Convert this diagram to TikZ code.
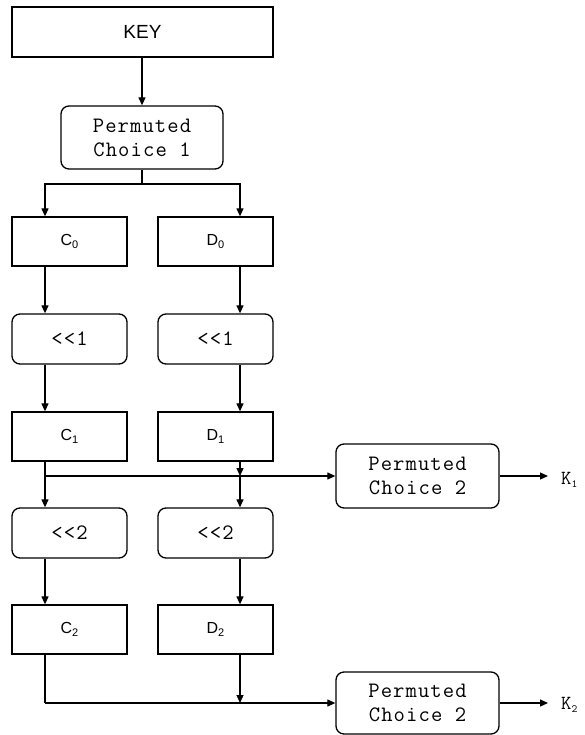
\documentclass[tikz,border=0pt]{standalone}
\usepackage{fontspec}
\setmainfont{Liberation Sans}
\newfontfamily\monofont{Latin Modern Mono}[LetterSpace=5]
\usetikzlibrary{arrows.meta,calc}
\tikzset{
  sqbox/.style={draw, line width=1.3pt, inner sep=0pt, font=\fontsize{16}{18}\selectfont},
  rbox/.style={draw, line width=1.3pt, rounded corners=8pt, inner sep=0pt, align=center,
    font=\monofont\fontsize{22}{24}\selectfont},
  arr/.style={line width=1.2pt, -{Triangle[length=8pt,width=7pt]}},
  ln/.style={line width=1.2pt},
  klabel/.style={inner sep=0pt, anchor=west, font=\monofont\fontsize{20}{22}\selectfont}
}
\newcommand{\subsc}[1]{\raisebox{-3pt}{\fontsize{11}{11}\selectfont #1}}
\begin{document}
\begin{tikzpicture}[x=1pt,y=-1pt]
\useasboundingbox (0,0) rectangle (585,735);
\coordinate (cx) at (45,0);
\coordinate (dx) at (240,0);
% nodes
\node[sqbox, minimum width=261pt, minimum height=50pt, font=\fontsize{19}{22}\selectfont] (key) at (142.5,32) {KEY};
\node[rbox, minimum width=162pt, minimum height=63pt] (pc1) at (142,137.5) {Permuted\\Choice 1};
\node[sqbox, minimum width=115pt, minimum height=49pt] (c0) at (69.5,241.5) {C\subsc{0}};
\node[sqbox, minimum width=115pt, minimum height=49pt] (d0) at (215.5,241.5) {D\subsc{0}};
\node[rbox, minimum width=115pt, minimum height=50pt] (s1a) at (69.5,339) {<<1};
\node[rbox, minimum width=115pt, minimum height=50pt] (s1b) at (215.5,339) {<<1};
\node[sqbox, minimum width=115pt, minimum height=49pt] (c1) at (69.5,436.5) {C\subsc{1}};
\node[sqbox, minimum width=115pt, minimum height=49pt] (d1) at (215.5,436.5) {D\subsc{1}};
\node[rbox, minimum width=115pt, minimum height=50pt] (s2a) at (69.5,533) {<<2};
\node[rbox, minimum width=115pt, minimum height=50pt] (s2b) at (215.5,533) {<<2};
\node[sqbox, minimum width=115pt, minimum height=49pt] (c2) at (69.5,629.5) {C\subsc{2}};
\node[sqbox, minimum width=115pt, minimum height=49pt] (d2) at (215.5,629.5) {D\subsc{2}};
\node[rbox, minimum width=163pt, minimum height=64pt] (pc2a) at (417.5,476) {Permuted\\Choice 2};
\node[rbox, minimum width=163pt, minimum height=62pt] (pc2b) at (417.5,703) {Permuted\\Choice 2};
\node[klabel, inner xsep=13pt] (k1) at (548,480) {K\subsc{1}};
\node[klabel, inner xsep=13pt] (k2) at (548,705) {K\subsc{2}};
\coordinate (split) at (142,184);
\coordinate (j1) at (45,476);
\coordinate (j2) at (45,703);
\coordinate (m1) at (240,476);
\coordinate (m2) at (240,703);
% connectors
\draw[arr] (key.south -| pc1.north) -- (pc1.north);
\draw[ln] (pc1.south) -- (split);
\draw[arr] (split) -| (c0.north -| cx);
\draw[arr] (split) -| (d0.north -| dx);
\draw[arr] (c0.south -| cx) -- (s1a.north -| cx);
\draw[arr] (d0.south -| dx) -- (s1b.north -| dx);
\draw[arr] (s1a.south -| cx) -- (c1.north -| cx);
\draw[arr] (s1b.south -| dx) -- (d1.north -| dx);
\draw[arr] (c1.south -| cx) -- (s2a.north -| cx);
\draw[arr] (d1.south -| dx) -- (m1);
\draw[arr] (m1) -- (s2b.north -| dx);
\draw[arr] (j1) -- (pc2a.west);
\draw[arr] (pc2a.east) -- (pc2a.east -| k1.west);
\draw[arr] (s2a.south -| cx) -- (c2.north -| cx);
\draw[arr] (s2b.south -| dx) -- (d2.north -| dx);
\draw[ln] (c2.south -| cx) -- (j2);
\draw[arr] (j2) -- (pc2b.west);
\draw[arr] (d2.south -| dx) -- (m2);
\draw[arr] (pc2b.east) -- (pc2b.east -| k2.west);
\end{tikzpicture}
\end{document}
